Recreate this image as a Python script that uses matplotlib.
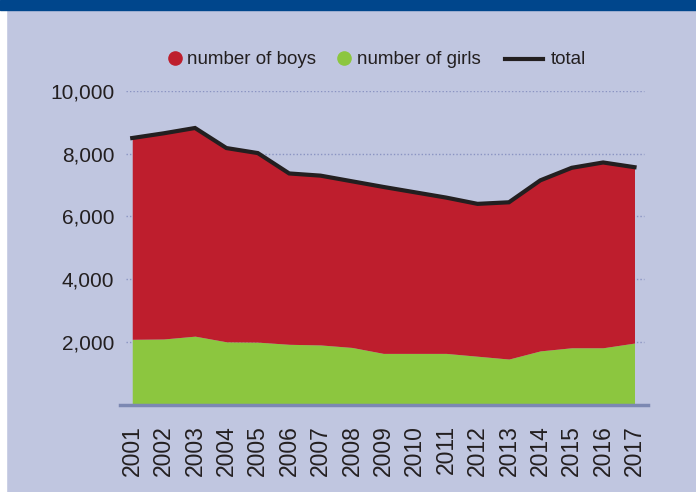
import matplotlib
matplotlib.use("Agg")
import matplotlib.pyplot as plt
from matplotlib.patches import Rectangle
from matplotlib.lines import Line2D
import numpy as np

years = list(range(2001, 2018))
girls = [2080, 2090, 2180, 2000, 1990, 1920, 1900, 1820, 1630, 1630, 1630, 1540, 1450, 1710, 1810, 1810, 1960]
boys = [6420, 6560, 6640, 6180, 6030, 5450, 5400, 5300, 5310, 5140, 4970, 4860, 5000, 5440, 5740, 5910, 5610]
yticks = [2000, 4000, 6000, 8000, 10000]
ytick_labels = ["2,000", "4,000", "6,000", "8,000", "10,000"]
legend_labels = ['number of boys', 'number of girls', 'total']

bg = '#c0c6e0'
red = '#be1e2d'
green = '#8cc63f'
dark = '#231f20'
blue = '#00468c'
fam = ['Liberation Sans', 'DejaVu Sans']

W, H = 696, 492
fig = plt.figure(figsize=(W / 100, H / 100), dpi=100, facecolor=bg)
fig.patches.append(Rectangle((0, 0), 6 / W, 1, transform=fig.transFigure, color='white', zorder=-1))
fig.patches.append(Rectangle((0, 1 - 10 / H), 1, 10 / H, transform=fig.transFigure, color=blue, zorder=-1))

ax = fig.add_axes([120 / W, 1 - 404.5 / H, 528 / W, 313.5 / H])
ax.set_facecolor('none')

total = np.array(boys) + np.array(girls)
ax.fill_between(years, 0, girls, color=green, linewidth=0, zorder=2)
ax.fill_between(years, girls, total, color=red, linewidth=0, zorder=2)
ax.plot(years, total, color=dark, linewidth=3, zorder=3, solid_joinstyle='miter')

for y in yticks:
    ax.axhline(y, xmin=0.011, xmax=0.992, color='#8a93c2', linestyle=(0, (1, 1.5)), linewidth=1, zorder=1)

ax.set_xlim(2000.61, 2017.43)
ax.set_ylim(0, 10000)
for s in ['top', 'right', 'left']:
    ax.spines[s].set_visible(False)
ax.spines['bottom'].set_color('#7c88b2')
ax.spines['bottom'].set_linewidth(2.5)
ax.spines['bottom'].set_zorder(4)

ax.set_yticks(yticks)
ax.set_yticklabels(ytick_labels, fontsize=15, color=dark, family=fam)
ax.tick_params(axis='y', length=0, pad=4)
ax.set_xticks(years)
ax.set_xticklabels([str(y) for y in years], rotation=90, fontsize=16.5, color=dark, family=fam)
ax.tick_params(axis='x', length=0, pad=15)

# legend drawn by hand, in pixel positions of the figure
def px(x, y):
    return x / W, 1 - y / H

colors = [red, green]
marker_x = [175, 344]
text_x = [187, 357, 551]
for c, mx in zip(colors, marker_x):
    fig.add_artist(Line2D([px(mx, 58)[0]], [px(mx, 58)[1]], marker='o', markersize=9.5,
                          color=c, linestyle='none', transform=fig.transFigure))
fig.add_artist(Line2D([px(505, 59)[0], px(543, 59)[0]], [px(505, 59)[1]] * 2, color=dark,
                      linewidth=3, transform=fig.transFigure))
for lab, tx in zip(legend_labels, text_x):
    fig.text(*px(tx, 64), lab, fontsize=13.5, color=dark, family=fam, va='baseline', ha='left')

fig.savefig('out.png', dpi=100, facecolor=bg)
